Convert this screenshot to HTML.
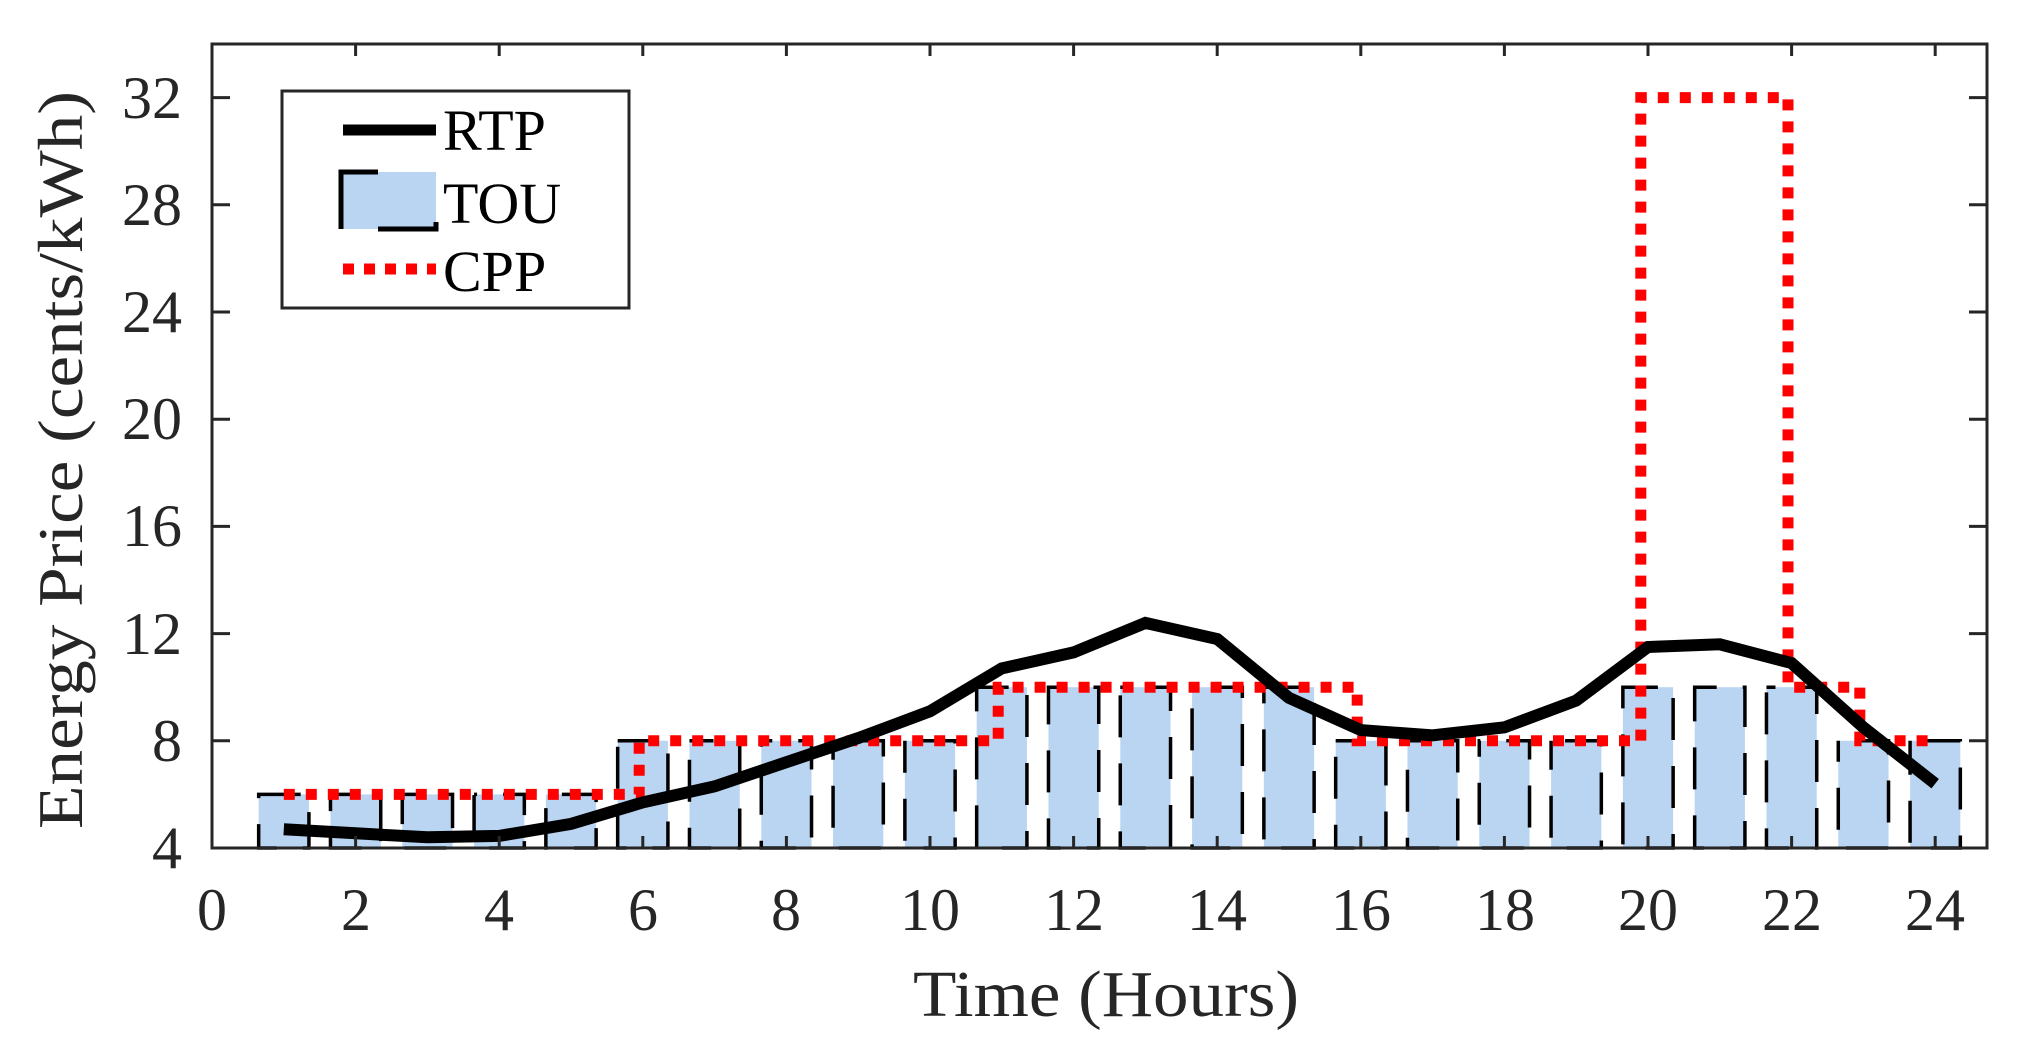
<!DOCTYPE html>
<html><head><meta charset="utf-8"><style>
html,body{margin:0;padding:0;background:#fff;}
svg{display:block;}
text{font-family:"Liberation Serif",serif;fill:#262626;}
</style></head><body>
<svg id="s" width="2030" height="1055" viewBox="0 0 2030 1055" xmlns="http://www.w3.org/2000/svg">
<rect x="0" y="0" width="2030" height="1055" fill="#fff"/>
<g id="bars"></g>
<g id="lines"></g>
<g id="axes"></g>
<g font-size="60" text-anchor="end">
<text x="182" y="868">4</text>
<text x="182" y="761">8</text>
<text x="182" y="654">12</text>
<text x="182" y="546">16</text>
<text x="182" y="439">20</text>
<text x="182" y="332">24</text>
<text x="182" y="225">28</text>
<text x="182" y="118">32</text>
</g>
<g font-size="60" text-anchor="middle">
<text x="212" y="930">0</text>
<text x="356" y="930">2</text>
<text x="499" y="930">4</text>
<text x="643" y="930">6</text>
<text x="786" y="930">8</text>
<text x="930" y="930">10</text>
<text x="1074" y="930">12</text>
<text x="1217" y="930">14</text>
<text x="1361" y="930">16</text>
<text x="1505" y="930">18</text>
<text x="1648" y="930">20</text>
<text x="1792" y="930">22</text>
<text x="1935" y="930">24</text>
</g>
<text x="1106" y="1016" font-size="66" text-anchor="middle" textLength="386" lengthAdjust="spacingAndGlyphs">Time (Hours)</text>
<text transform="translate(82,460) rotate(-90)" x="0" y="0" font-size="64" text-anchor="middle" textLength="738" lengthAdjust="spacingAndGlyphs">Energy Price (cents/kWh)</text>
<rect x="282" y="91" width="347" height="217" fill="#fff" stroke="#262626" stroke-width="3"/>
<line x1="343" y1="130" x2="436" y2="130" stroke="#000" stroke-width="11"/>
<rect x="341" y="172" width="95" height="57" fill="#bad5f2"/>
<path d="M378,172 H341 V229" fill="none" stroke="#000" stroke-width="5"/>
<path d="M378,229 H436 V222" fill="none" stroke="#000" stroke-width="5"/>
<line x1="343" y1="269" x2="436" y2="269" stroke="#f00" stroke-width="11" stroke-dasharray="11 10"/>
<g font-size="58">
<text x="443" y="150" style="fill:#000">RTP</text>
<text x="443" y="223" style="fill:#000">TOU</text>
<text x="443" y="291" style="fill:#000">CPP</text>
</g>
</svg>
<script>
(function(){
var NS="http://www.w3.org/2000/svg";
function X(h){return 212+71.8*h;}
function Y(v){return 848-(v-4)*26.8;}
function el(p,t,a){var e=document.createElementNS(NS,t);for(var k in a)e.setAttribute(k,a[k]);document.getElementById(p).appendChild(e);return e;}
var tou=[6,6,6,6,6,8,8,8,8,8,10,10,10,10,10,8,8,8,8,10,10,10,8,8];
for(var i=0;i<24;i++){
  var h=i+1,x0=X(h-0.35),x1=X(h+0.35),y=Y(tou[i]);
  el("bars","rect",{x:x0,y:y,width:x1-x0,height:848-y,fill:"#bad5f2"});
  el("bars","rect",{x:x0,y:y,width:x1-x0,height:848-y,fill:"none",stroke:"#000","stroke-width":3.5,"stroke-dasharray":"42 26","stroke-dashoffset":(i*13)%60});
}
var rtp=[4.7,4.55,4.4,4.45,4.9,5.7,6.3,7.2,8.1,9.1,10.7,11.3,12.4,11.8,9.6,8.4,8.2,8.5,9.5,11.5,11.6,10.9,8.5,6.4];
var d="";for(i=0;i<24;i++)d+=(i?"L":"M")+X(i+1).toFixed(1)+","+Y(rtp[i]).toFixed(1);
var cx=[1,5.95,10.95,15.95,19.9,21.95,22.95,24],cv=[6,8,10,8,32,10,8];
var c="M"+X(1)+","+Y(6);
for(i=0;i<cv.length;i++){c+="H"+X(cx[i+1]).toFixed(1);if(i<cv.length-1)c+="V"+Y(cv[i+1]).toFixed(1);}
el("lines","path",{d:c,fill:"none",stroke:"#f00","stroke-width":11,"stroke-dasharray":"11 11"});
el("lines","path",{d:d,fill:"none",stroke:"#000","stroke-width":12,"stroke-linejoin":"miter"});
el("axes","rect",{x:212,y:44,width:1775,height:804,fill:"none",stroke:"#262626","stroke-width":3});
for(var h=0;h<=24;h+=2){var xx=X(h);
 el("axes","line",{x1:xx,y1:848,x2:xx,y2:836,stroke:"#262626","stroke-width":3});
 el("axes","line",{x1:xx,y1:44,x2:xx,y2:56,stroke:"#262626","stroke-width":3});}
for(var v=4;v<=32;v+=4){var yy=Y(v);
 el("axes","line",{x1:212,y1:yy,x2:230,y2:yy,stroke:"#262626","stroke-width":3});
 el("axes","line",{x1:1987,y1:yy,x2:1969,y2:yy,stroke:"#262626","stroke-width":3});}
})();
</script>
</body></html>
